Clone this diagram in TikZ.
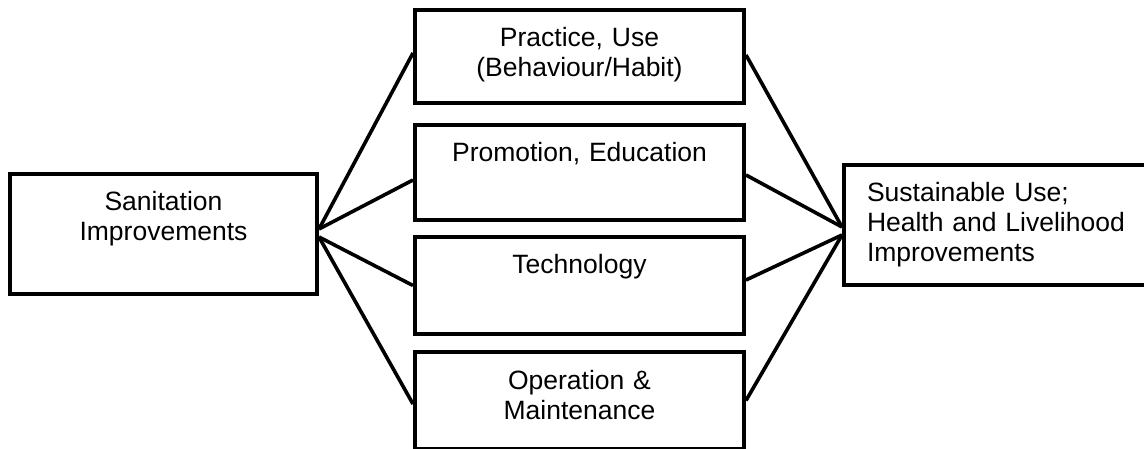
\documentclass[tikz,border=0pt]{standalone}
\usepackage{fontspec}
\setmainfont{Liberation Sans}
\begin{document}
\begin{tikzpicture}[x=1pt,y=-1pt,
  box/.style={draw, line width=4pt, inner xsep=0pt, inner ysep=0pt, anchor=north west,
    align=center, font=\fontsize{26.5pt}{30pt}\selectfont, text height=37pt},
  link/.style={line width=3.6pt}]
\useasboundingbox (0,0) rectangle (1144,449);
\clip (0,0) rectangle (1144,449);
\node[box, text width=307pt, text depth=83pt] (san) at (8,172) {Sanitation\\Improvements};
\node[box, text width=329pt, text depth=56pt] (prac) at (413,8) {Practice, Use\\(Behaviour/Habit)};
\node[box, text width=329pt, text depth=58pt] (prom) at (413,123) {Promotion, Education};
\node[box, text width=329pt, text depth=60pt] (tech) at (413,235) {Technology};
\node[box, text width=329pt, text depth=60pt] (om) at (413,350) {Operation \&\\Maintenance};
\node[box, text width=272pt, inner xsep=23pt, align=left, text depth=83pt] (sus) at (842,163) {Sustainable Use;\\Health and Livelihood\\Improvements};
\draw[link] ([yshift=5pt]san.east) -- ([yshift=3.5pt]prac.west);
\draw[link] ([yshift=5pt]san.east) -- ([yshift=-7.5pt]prom.west);
\draw[link] ([yshift=-3pt]san.east) -- (tech.west);
\draw[link] ([yshift=-3pt]san.east) -- ([yshift=-3.5pt]om.west);
\draw[link] ([yshift=1.5pt]prac.east) -- ([yshift=-2pt]sus.west);
\draw[link] ([yshift=-2.5pt]prom.east) -- ([yshift=-2pt]sus.west);
\draw[link] ([yshift=5.5pt]tech.east) -- ([yshift=-10pt]sus.west);
\draw[link] (om.east) -- ([yshift=-10pt]sus.west);
\end{tikzpicture}
\end{document}
